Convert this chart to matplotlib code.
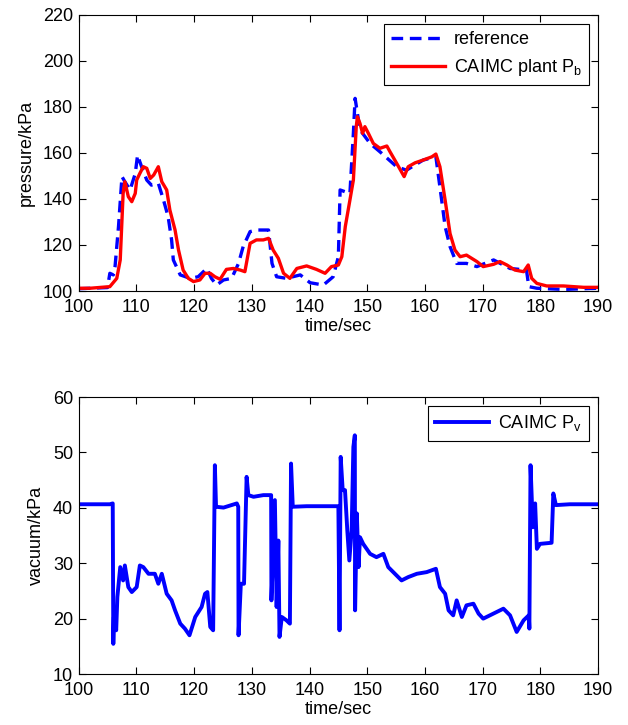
import numpy as np
import matplotlib
matplotlib.use("Agg")
import matplotlib.pyplot as plt

plt.rcParams['font.family'] = ['Liberation Sans', 'DejaVu Sans']
plt.rcParams['mathtext.fontset'] = 'custom'
plt.rcParams['mathtext.rm'] = 'Liberation Sans'
plt.rcParams['mathtext.it'] = 'Liberation Sans'

# reference pressure (blue dashed)
ref_t = [100, 105.0, 105.4, 106.0, 106.3, 106.9, 107.5, 108.0, 108.9, 109.8, 110.2, 110.9,
         111.8, 112.6, 113.8, 114.7, 115.5, 116.1, 116.4, 117.6, 119.3, 120.7, 122.2,
         123.0, 123.9, 125.1, 126.5, 127.7, 128.5, 129.7, 130.8, 132.9, 133.5, 134.3,
         136.0, 138.4, 140.1, 142.4, 144.1, 145.0, 145.3, 146.2, 147.0, 147.6, 147.9,
         148.75, 150.5, 152.2, 155.1, 156.8, 159.7, 161.9, 162.9, 163.5, 164.35, 165.5,
         167.2, 169.0, 171.9, 174.75, 177.6, 178.0, 179.4, 184.0, 190]
ref_p = [101.0, 101.5, 107.7, 107.0, 110.6, 128, 149.7, 147.5, 143.9, 151, 159, 154,
         148.2, 146, 146.8, 139.5, 132.3, 122.2, 113.5, 107, 105.5, 106.2, 109.8,
         105.5, 102.6, 104.8, 105.5, 112, 119.3, 125.8, 126.5, 126.5, 112, 106.2,
         105.5, 107, 103.6, 102.6, 106.2, 114.9, 143.9, 143.1, 142.4, 168.5, 183.7,
         170, 164.1, 160.5, 154, 152.5, 156.9, 158.3, 139.5, 128, 119.3, 112,
         112, 110.6, 113.5, 109.8, 109.1, 101.9, 101.2, 100.7, 101.2]

# CAIMC plant Pb (red solid)
pb_t = [100, 101.96, 105.4, 106.6, 107.2, 107.7, 108.0, 108.6, 109.2, 109.8, 110.05, 110.6,
        111.2, 111.8, 112.4, 113.0, 113.8, 114.4, 115.25, 115.8, 116.7, 117.3, 118.1,
        119.0, 119.9, 121.0, 121.9, 122.8, 123.6, 124.5, 125.6, 126.8, 128.0, 128.8,
        129.7, 130.8, 132.0, 132.9, 133.7, 134.6, 135.5, 136.6, 137.8, 139.5, 141.2,
        142.7, 143.8, 145.0, 145.6, 146.2, 147.0, 147.6, 148.1, 148.3, 148.75, 149.2,
        149.6, 150.2, 151.06, 152.2, 153.4, 153.95, 155.1, 156.4, 157.1, 158.3, 159.7,
        161.2, 161.9, 162.6, 163.5, 164.35, 165.2, 166.1, 167.2, 168.1, 169.0, 170.1,
        171.9, 173.0, 174.2, 175.6, 177.1, 177.9, 178.5, 179.4, 181.1, 184.0, 187.5, 190]
pb_p = [101.2, 101.2, 101.9, 105.5, 113.5, 142.4, 147.5, 141, 138.8, 142.4, 148.2, 151.1,
        154, 153.3, 148.9, 150.4, 154, 147.5, 143.9, 135.2, 126.5, 117.8, 109.1,
        105.5, 104.1, 104.8, 107.7, 107.7, 106.2, 105.1, 109.4, 109.8, 109.1, 108.4,
        120.7, 122.2, 122.2, 122.9, 117.8, 114.2, 107.7, 105.5, 109.8, 110.9, 109.4,
        107.7, 110.6, 111.3, 114.9, 128, 139.5, 148.2, 171.4, 175.7, 172.8, 168.5,
        171.4, 168.5, 164.1, 162, 163, 160.5, 155.5, 149.7, 154, 155.7, 156.9,
        158.3, 159.5, 154, 139.5, 125.0, 117.8, 114.9, 115.6, 114.2, 112.8, 110.6,
        111.6, 112.8, 111.3, 109.1, 108.4, 111.3, 105.5, 103.3, 102.2, 102.2, 101.6, 101.6]

# CAIMC Pv (blue solid, lower panel)
pv_t = [100, 105.4, 105.9, 106.0, 106.1, 106.5, 106.7, 107.2, 107.7, 108.0, 108.6, 109.2,
        110.05, 110.6, 111.2, 112.1, 113.2, 113.8, 114.4, 115.25, 116.1, 116.7, 117.6,
        118.4, 119.2, 120.2, 121.3, 121.9, 122.3, 122.8, 123.3, 123.6, 123.8, 125.1,
        127.4, 127.65, 127.7, 128.1, 128.65, 129.1, 129.4, 130.3, 132.0, 133.35, 133.4,
        134.0, 134.3, 134.6, 134.8, 135.2, 136.0, 136.6, 136.8, 137.1, 139.5, 145.0,
        145.2, 145.4, 145.75, 146.15, 146.55, 146.9, 147.3, 147.6, 147.85, 147.9, 148.2,
        148.5, 148.75, 149.3, 150.5, 151.6, 152.8, 153.65, 154.8, 155.95, 157.1, 158.6,
        160.3, 161.9, 162.6, 163.5, 164.1, 164.9, 165.5, 166.4, 167.2, 168.4, 169.3,
        170.1, 171.85, 173.6, 174.75, 175.9, 177.1, 178.0, 178.1, 178.3, 178.7, 179.1,
        179.4, 179.95, 181.95, 182.25, 182.7, 185.1, 190]
pv_v = [40.65, 40.65, 40.8, 15.45, 20.3, 17.9, 23.9, 29.3, 26.9, 29.6, 25.7, 24.8,
        25.7, 29.6, 29.3, 28.1, 28.1, 26.3, 28.1, 24.5, 23.3, 21.5, 19.1,
        18.2, 17.0, 20.3, 22.1, 24.5, 24.8, 18.5, 17.9, 47.7, 40.2, 40.05,
        40.8, 40.2, 17.0, 26.3, 26.3, 45.6, 42.3, 42.0, 42.3, 42.3, 23.3,
        41.4, 22.1, 34.1, 16.7, 20.3, 19.7, 19.1, 48.0, 40.2, 40.3, 40.3,
        17.9, 49.2, 43.2, 43.2, 35.9, 30.5, 35.9, 51.0, 53.1, 21.5, 39.0,
        29.3, 34.7, 33.5, 31.7, 31.1, 31.7, 29.3, 28.1, 26.9, 27.5, 28.1,
        28.4, 29.0, 25.7, 24.5, 21.5, 20.6, 23.3, 20.3, 22.4, 22.7, 20.9,
        20.0, 20.9, 21.8, 20.6, 17.6, 19.7, 20.6, 18.2, 47.7, 36.5, 40.8,
        32.6, 33.5, 33.7, 42.6, 40.5, 40.65, 40.65]

x_ticks = np.arange(100, 191, 10)
fs = 13

fig = plt.figure(figsize=(6.28, 7.25), dpi=100)
ax1 = fig.add_axes([0.1253, 0.5986, 0.827, 0.381])
ax2 = fig.add_axes([0.1253, 0.0703, 0.827, 0.382])

ax1.plot(ref_t, ref_p, color='#0000ff', linestyle='--', linewidth=2.4,
         dashes=(3.5, 2.0), label='reference')
ax1.plot(pb_t, pb_p, color='#ff0000', linewidth=2.4, label=r'CAIMC plant P$_\mathregular{b}$')
ax1.set_xlim(100, 190)
ax1.set_ylim(100, 220)
ax1.set_yticks(np.arange(100, 221, 20))
ax1.set_ylabel('pressure/kPa', fontsize=fs, labelpad=6)

ax2.plot(pv_t, pv_v, color='#0000ff', linewidth=2.8, label=r'CAIMC P$_\mathregular{v}$')
ax2.set_xlim(100, 190)
ax2.set_ylim(10, 60)
ax2.set_yticks(np.arange(10, 61, 10))
ax2.set_ylabel('vacuum/kPa', fontsize=fs, labelpad=6)

for ax in (ax1, ax2):
    ax.set_xticks(x_ticks)
    ax.set_xlabel('time/sec', fontsize=fs, labelpad=1)
    ax.tick_params(direction='in', top=True, right=True, labelsize=fs, length=5)
    ax.tick_params(axis='x', pad=6)
    ax.tick_params(axis='y', pad=4)
    leg = ax.legend(loc='upper right', fontsize=fs, handlelength=3.0, handletextpad=0.5,
                    borderaxespad=0.5, fancybox=False, framealpha=1, borderpad=0.4)
    leg.get_frame().set_edgecolor('black')
    leg.get_frame().set_linewidth(0.8)

fig.savefig('out.png', dpi=100)
